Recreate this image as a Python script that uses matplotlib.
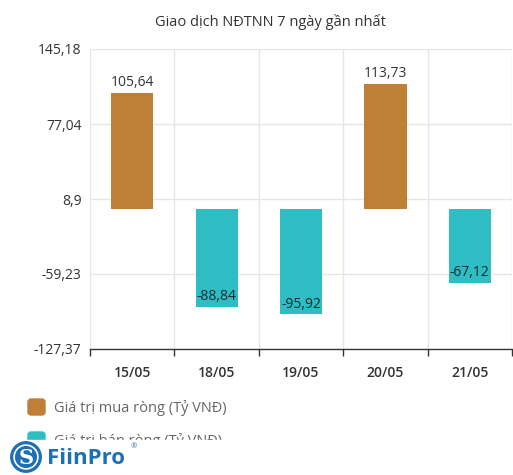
import numpy as np
import matplotlib
matplotlib.use('Agg')
import matplotlib.pyplot as plt
from matplotlib.patches import FancyBboxPatch, Rectangle, Circle

# data
dates = ['15/05', '18/05', '19/05', '20/05', '21/05']
buy_values = [105.64, 0, 0, 113.73, 0]
sell_values = [0, -88.84, -95.92, 0, -67.12]
y_ticks = [-127.37, -59.23, 8.9, 77.04, 145.18]
y_tick_labels = ['-127,37', '-59,23', '8,9', '77,04', '145,18']
legend_labels = ['Giá trị mua ròng (Tỷ VNĐ)', 'Giá trị bán ròng (Tỷ VNĐ)']
title = 'Giao dịch NĐTNN 7 ngày gần nhất'

buy_color = '#BF7F36'
sell_color = '#2EBDC3'
text_color = '#333333'

plt.rcParams['font.family'] = ['Open Sans', 'DejaVu Sans']

W, H = 513, 475
fig = plt.figure(figsize=(W / 100, H / 100), dpi=100)
ax = fig.add_axes([90 / W, 126 / H, 422 / W, 300 / H])

x = np.arange(len(dates))


def fmt(v):
    return f'{v:.2f}'.replace('.', ',')


for i, v in enumerate(buy_values):
    if v != 0:
        ax.bar(x[i], v, width=0.5, color=buy_color, zorder=3)
        ax.annotate(fmt(v), (x[i], v), xytext=(0, 2), textcoords='offset points',
                    ha='center', va='bottom', fontsize=10, color=text_color)
for i, v in enumerate(sell_values):
    if v != 0:
        ax.bar(x[i], v, width=0.5, color=sell_color, zorder=3)
        ax.annotate(fmt(v), (x[i], v), xytext=(0, 2), textcoords='offset points',
                    ha='center', va='bottom', fontsize=10, color='#1c2a30')

ax.set_xlim(-0.5, len(dates) - 0.5)
ax.set_ylim(y_ticks[0], y_ticks[-1])
ax.set_yticks(y_ticks)
ax.set_yticklabels(y_tick_labels)
ax.set_xticks(x)
ax.set_xticklabels(dates, fontweight='semibold')
ax.set_xticks(np.arange(-0.5, len(dates)), minor=True)

ax.tick_params(axis='y', length=0, pad=6, labelsize=10, labelcolor=text_color)
ax.tick_params(axis='x', which='major', length=0, pad=12, labelsize=10, labelcolor=text_color)
ax.tick_params(axis='x', which='minor', length=5, width=1, color='#333333')

ax.grid(axis='y', which='major', color='#e6e6e6', lw=1, zorder=0)
ax.grid(axis='x', which='minor', color='#e6e6e6', lw=1, zorder=0)
for s in ['top', 'right', 'left']:
    ax.spines[s].set_visible(False)
ax.spines['bottom'].set_color('#333333')
ax.spines['bottom'].set_linewidth(1)

fig.text(270 / W, 1 - 22 / H, title, ha='center', va='center', fontsize=10.5, color=text_color)

# legend
for j, (lab, col) in enumerate(zip(legend_labels, [buy_color, sell_color])):
    y0 = 399 + j * 33
    fig.patches.append(FancyBboxPatch((28 / W, 1 - (y0 + 16) / H), 17 / W, 16 / H,
                                      boxstyle='round,pad=0,rounding_size=0.006',
                                      transform=fig.transFigure, color=col))
    fig.text(54 / W, 1 - (y0 + 9) / H, lab, ha='left', va='center', fontsize=10.5, color='#666666')

# white band hiding the bottom of the legend, then the logo
fig.patches.append(Rectangle((0, 0), 1, 1 - 440 / H, transform=fig.transFigure,
                             color='white', zorder=5))
logo_blue = '#1E6FB3'
logo_ax = fig.add_axes([7 / W, 1 - 473 / H, 38 / W, 32 / H], zorder=6)
logo_ax.set_aspect('equal')
logo_ax.axis('off')
logo_ax.add_patch(Circle((0, 0), 1.0, color=logo_blue))
logo_ax.add_patch(Circle((0, 0), 0.78, fill=False, ec='white', lw=1.2))
logo_ax.text(0, -0.05, 'S', ha='center', va='center', color='white', fontsize=15,
             fontweight='bold', family='DejaVu Serif')
logo_ax.set_xlim(-1.05, 1.05)
logo_ax.set_ylim(-1.05, 1.05)
fig.text(47 / W, 1 - 458 / H, 'FiinPro', ha='left', va='center', fontsize=16,
         fontweight='bold', color=logo_blue, zorder=7)
fig.text(131 / W, 1 - 447 / H, '®', ha='left', va='center', fontsize=5.5, color=logo_blue, zorder=7)

fig.savefig('out.png', dpi=100)
